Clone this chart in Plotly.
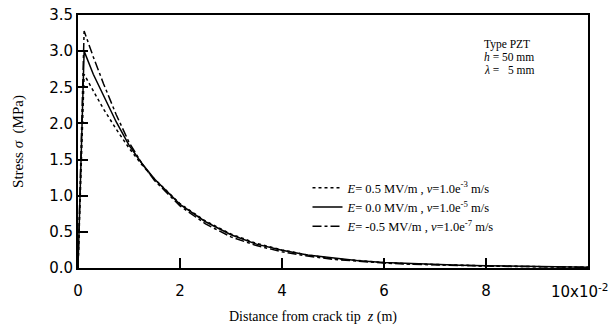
import plotly.graph_objects as go

# distance from crack tip, in units of 1e-2 m
x_vals = [0.0, 0.04, 0.12, 0.3, 0.5, 0.75, 1.0, 1.25, 1.5, 2.0, 2.5, 3.0, 3.5, 4.0,
          4.5, 5.0, 5.5, 6.0, 6.5, 7.0, 7.5, 8.0, 8.5, 9.0, 9.5, 10.0]
# E = 0.5 MV/m (dotted)
stress_pos = [0.0, 1.0, 2.68, 2.45, 2.2, 1.92, 1.66, 1.43, 1.23, 0.89, 0.65, 0.47, 0.34, 0.25,
              0.18, 0.13, 0.10, 0.075, 0.058, 0.046, 0.036, 0.03, 0.024, 0.02, 0.015, 0.01]
# E = 0.0 MV/m (solid)
stress_zero = [0.0, 1.1, 3.0, 2.68, 2.38, 2.02, 1.70, 1.45, 1.23, 0.88, 0.64, 0.46, 0.33, 0.245,
               0.18, 0.135, 0.10, 0.075, 0.06, 0.047, 0.038, 0.031, 0.025, 0.02, 0.015, 0.012]
# E = -0.5 MV/m (dash-dot)
stress_neg = [0.0, 1.2, 3.28, 2.92, 2.55, 2.12, 1.74, 1.45, 1.21, 0.86, 0.61, 0.43, 0.31, 0.225,
              0.165, 0.12, 0.09, 0.068, 0.052, 0.041, 0.033, 0.027, 0.022, 0.018, 0.014, 0.01]

names = ["<i>E</i>= 0.5 MV/m , <i>v</i>=1.0e<sup>-3</sup> m/s",
         "<i>E</i>= 0.0 MV/m , <i>v</i>=1.0e<sup>-5</sup> m/s",
         "<i>E</i>= -0.5 MV/m , <i>v</i>=1.0e<sup>-7</sup> m/s"]
dashes = ["dot", "solid", "dashdot"]
series = [stress_pos, stress_zero, stress_neg]

x_ticks = [0, 2, 4, 6, 8, 10]
x_ticktext = ["0", "2", "4", "6", "8", ""]
x_last_label = "10x10<sup>-2</sup>"
y_ticks = [0.0, 0.5, 1.0, 1.5, 2.0, 2.5, 3.0, 3.5]
y_ticktext = ["0.0", "0.5", "1.0", "1.5", "2.0", "2.5", "3.0", "3.5"]

fig = go.Figure()
for ys, nm, ds in zip(series, names, dashes):
    fig.add_trace(go.Scatter(x=x_vals, y=ys, mode="lines", name=nm,
                             line=dict(color="black", width=1.5, dash=ds)))

serif = "Liberation Serif"
sans = "DejaVu Sans"

fig.update_layout(
    width=613, height=334,
    margin=dict(l=78, r=25, t=15, b=66),
    paper_bgcolor="white", plot_bgcolor="white",
    showlegend=True,
    legend=dict(x=0.45, y=0.375, xanchor="left", yanchor="top",
                bgcolor="rgba(0,0,0,0)", borderwidth=0,
                font=dict(family=serif, size=12.5, color="black"),
                itemwidth=30, tracegroupgap=0),
    xaxis=dict(range=[0, 10.001], tickvals=x_ticks, ticktext=x_ticktext,
               ticks="inside", ticklen=10, tickwidth=1.5, tickcolor="black",
               ticklabelstandoff=8, automargin=False,
               showline=True, linecolor="black", linewidth=2, mirror=True,
               showgrid=False, zeroline=False,
               tickfont=dict(family=sans, size=15, color="black")),
    yaxis=dict(range=[0, 3.5], tickvals=y_ticks, ticktext=y_ticktext,
               ticks="inside", ticklen=10, tickwidth=1.5, tickcolor="black",
               showline=True, linecolor="black", linewidth=2, mirror=True,
               showgrid=False, zeroline=False, automargin=False,
               tickfont=dict(family=sans, size=15, color="black"),
               title=dict(text="Stress <i>σ</i>  (MPa)", standoff=22,
                          font=dict(family=serif, size=15, color="black"))),
)

# last x tick label, kept inside the page's right edge
fig.add_annotation(x=(611 - 78) / 510, y=-0.09, xref="paper", yref="paper",
                   text=x_last_label, showarrow=False, xanchor="right", yanchor="middle",
                   font=dict(family=sans, size=15, color="black"))

ann_font = dict(family=serif, size=11.5, color="black")
ann_texts = ["Type PZT", "<i>h</i> = 50 mm", "<i>λ</i> =   5 mm"]
ann_py = [44, 57, 70]
for t, py in zip(ann_texts, ann_py):
    fig.add_annotation(x=(482 - 78) / 510, y=1 - (py - 15) / 253, xref="paper", yref="paper",
                       text=t, showarrow=False, xanchor="left", yanchor="middle",
                       font=ann_font)
fig.add_annotation(x=0.461, y=-0.195, xref="paper", yref="paper",
                   text="Distance from crack tip  <i>z</i> (m)", showarrow=False,
                   xanchor="center", yanchor="middle",
                   font=dict(family=serif, size=14, color="black"))

fig.write_html("out.html")
